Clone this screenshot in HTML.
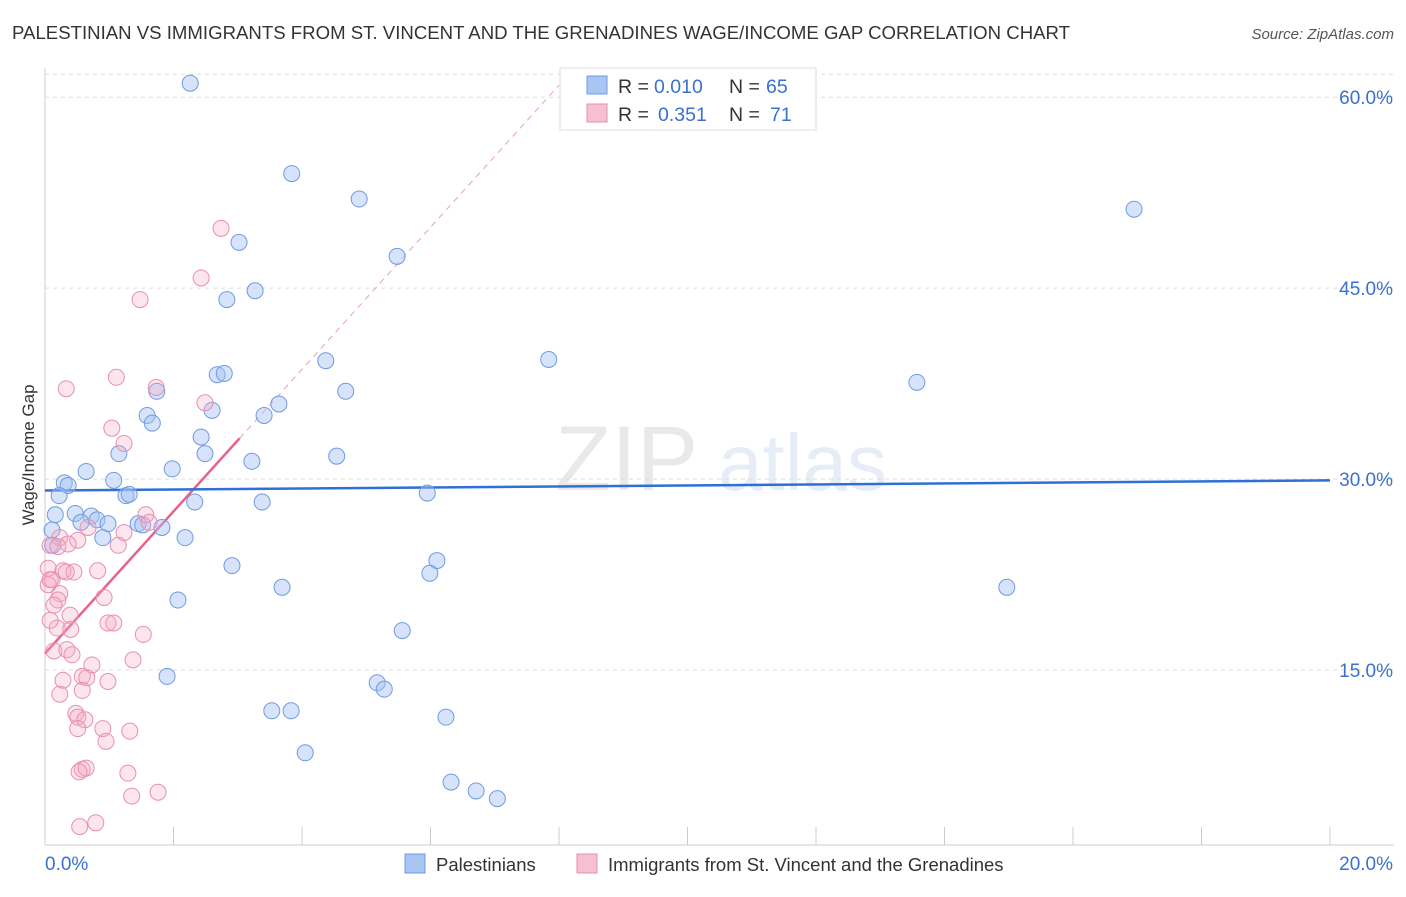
<!DOCTYPE html>
<html><head><meta charset="utf-8"><style>
body{margin:0;background:#fff;font-family:"Liberation Sans",sans-serif;}
svg text{font-family:"Liberation Sans",sans-serif;}
</style></head><body>
<svg id="chart" width="1406" height="892" xmlns="http://www.w3.org/2000/svg">
<text x="12" y="39" font-size="18.6" fill="#333" textLength="1058">PALESTINIAN VS IMMIGRANTS FROM ST. VINCENT AND THE GRENADINES WAGE/INCOME GAP CORRELATION CHART</text>
<text x="1394" y="39" font-size="15" fill="#555" text-anchor="end" font-style="italic">Source: ZipAtlas.com</text>
<g opacity="0.18">
<text x="555" y="490" font-size="92" font-family="Liberation Serif" fill="#888">ZIP</text>
<text x="718" y="490" font-size="80" fill="#7c9fd8">atlas</text>
</g>
<g id="grid"></g>
<g id="axes"></g>
<g id="lines"></g>
<g id="pts"></g>
<text transform="translate(34,455) rotate(-90)" font-size="17" fill="#333" text-anchor="middle">Wage/Income Gap</text>
<g font-size="19.5">
<rect x="560" y="68" width="256" height="62" fill="#fff" stroke="#ddd"/>
<rect x="587" y="76" width="20" height="18" fill="#a9c6f3" stroke="#6f9be0"/>
<rect x="587" y="104" width="20" height="18" fill="#f7bfd2" stroke="#e88fb0"/>
<text x="618" y="93" fill="#333">R =</text><text x="654" y="93" fill="#3a70d0">0.010</text>
<text x="729" y="93" fill="#333">N =</text><text x="766" y="93" fill="#3a70d0">65</text>
<text x="618" y="121" fill="#333">R =</text><text x="658" y="121" fill="#3a70d0">0.351</text>
<text x="729" y="121" fill="#333">N =</text><text x="770" y="121" fill="#3a70d0">71</text>
</g>
<g>
<rect x="405" y="854" width="20" height="19" fill="#a9c6f3" stroke="#6f9be0"/>
<text x="436" y="871" font-size="18.5" fill="#333">Palestinians</text>
<rect x="577" y="854" width="20" height="19" fill="#f7bfd2" stroke="#e88fb0"/>
<text x="608" y="871" font-size="18.5" fill="#333">Immigrants from St. Vincent and the Grenadines</text>
</g>
</svg>
<script>
const yTicks=[15,30,45,60];
const yTickLabels=["15.0%","30.0%","45.0%","60.0%"];
const xTicks=[0,2,4,6,8,10,12,14,16,18,20];
const blueX=[2.26,3.84,4.89,3.02,5.48,2.83,3.27,4.37,7.84,4.68,2.68,2.79,1.74,2.60,1.59,1.67,3.64,3.41,2.43,2.49,1.98,1.15,3.22,4.54,0.64,0.30,0.36,1.07,0.22,1.26,1.31,2.33,3.38,5.95,0.47,0.72,0.81,0.56,0.98,1.45,1.52,1.82,0.16,0.11,0.90,2.18,0.12,2.91,6.10,5.99,3.69,2.07,5.56,1.90,5.17,5.28,3.53,3.83,6.24,4.05,6.32,6.71,7.04,13.57,16.95,14.97];
const blueY=[61.1,54.0,52.0,48.6,47.5,44.1,44.8,39.3,39.4,36.9,38.2,38.3,36.9,35.4,35.0,34.4,35.9,35.0,33.3,32.0,30.8,32.0,31.4,31.8,30.6,29.7,29.5,29.9,28.7,28.7,28.8,28.2,28.2,28.9,27.3,27.1,26.8,26.6,26.5,26.5,26.4,26.2,27.2,26.0,25.4,25.4,24.8,23.2,23.6,22.6,21.5,20.5,18.1,14.5,14.0,13.5,11.8,11.8,11.3,8.5,6.2,5.5,4.9,37.6,51.2,21.5];
const pinkX=[2.74,2.43,1.48,1.11,0.33,1.73,2.49,1.04,1.23,1.57,1.62,0.67,1.23,0.51,0.23,0.36,1.14,0.08,0.20,0.05,0.28,0.45,0.82,0.11,0.05,0.23,0.20,0.14,0.92,0.39,0.98,1.07,0.19,0.40,1.53,0.14,0.34,0.42,1.37,0.73,0.28,0.58,0.65,0.98,0.23,0.58,0.48,0.51,0.62,0.90,0.51,1.32,0.95,0.58,0.64,0.53,1.29,1.76,1.35,0.54,0.79,0.08,0.08,0.33];
const pinkY=[49.7,45.8,44.1,38.0,37.1,37.2,36.0,34.0,32.8,27.2,26.6,26.2,25.8,25.2,25.4,24.9,24.8,24.8,24.7,23.0,22.8,22.7,22.8,22.1,21.7,21.0,20.5,20.1,20.7,19.3,18.7,18.7,18.3,18.2,17.8,16.5,16.6,16.2,15.8,15.4,14.2,14.5,14.4,14.1,13.1,13.4,11.6,11.3,11.1,10.4,10.4,10.2,9.4,7.2,7.3,7.0,6.9,5.4,5.1,2.7,3.0,18.9,22.1,22.7];
const blueFit=[29.1,29.9];
const pinkFit=[16.3,127.9];
const X=v=>45+v*64.25, Y=v=>861-v*12.73;
const ns="http://www.w3.org/2000/svg";
function mk(p,t,a){const e=document.createElementNS(ns,t);for(const k in a)e.setAttribute(k,a[k]);p.appendChild(e);return e;}
const grid=document.getElementById('grid'),axes=document.getElementById('axes'),lines=document.getElementById('lines'),pts=document.getElementById('pts');
yTicks.forEach((t,i)=>{
 const l=mk(grid,'line',{x1:45,x2:1394,y1:Y(t),y2:Y(t),stroke:'#ddd','stroke-dasharray':'4,4'});
 
 
 const tx=mk(axes,'text',{x:1393,y:Y(t)+7,'font-size':19,fill:'#3a70d0','text-anchor':'end'});
 tx.textContent=yTickLabels[i];
 
 
});
const tl=mk(grid,'line',{x1:45,x2:1394,y1:Y(61.8),y2:Y(61.8),stroke:'#ddd','stroke-dasharray':'4,4'});


const ax=mk(axes,'line',{x1:45,x2:45,y1:68,y2:845,stroke:'#ccc'});


const bx=mk(axes,'line',{x1:45,x2:1394,y1:845,y2:845,stroke:'#ccc'});


xTicks.forEach(t=>{const e=mk(axes,'line',{x1:X(t),x2:X(t),y1:827,y2:845,stroke:'#ccc'});
 
 });
[["0.0%",45,'start'],["20.0%",1393,'end']].forEach(d=>{const e=mk(axes,'text',{x:d[1],y:870,'font-size':19,fill:'#3a70d0','text-anchor':d[2]});e.textContent=d[0];
 
 });
blueX.forEach((v,i)=>{const c=mk(pts,'circle',{cx:X(v),cy:Y(blueY[i]),r:8,fill:'rgba(164,194,244,0.45)',stroke:'#6f9be0','stroke-width':1});
 
 });
pinkX.forEach((v,i)=>{const c=mk(pts,'circle',{cx:X(v),cy:Y(pinkY[i]),r:8,fill:'rgba(244,170,196,0.3)',stroke:'#e88fb0','stroke-width':1});
 
 });
const slope=(pinkFit[1]-pinkFit[0])/20;
const d=mk(lines,'line',{x1:X(3.03),y1:Y(pinkFit[0]+slope*3.03),x2:X(8),y2:Y(pinkFit[0]+slope*8),stroke:'#e8a0b8','stroke-dasharray':'6,5'});


const p=mk(lines,'line',{x1:X(0),y1:Y(pinkFit[0]),x2:X(3.03),y2:Y(pinkFit[0]+slope*3.03),stroke:'#e8628f','stroke-width':2.5});


const b=mk(lines,'line',{x1:X(0),y1:Y(blueFit[0]),x2:X(20),y2:Y(blueFit[1]),stroke:'#2f6fd6','stroke-width':2.5});


</script>
</body></html>
